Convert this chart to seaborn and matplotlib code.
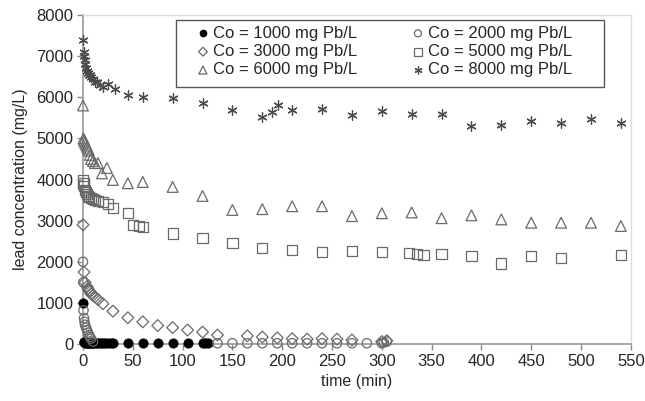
# Lead concentration vs time for different initial concentrations
import matplotlib
matplotlib.use("Agg")
import matplotlib.pyplot as plt
from matplotlib.patches import Rectangle
import seaborn as sns

# Data
t_1000 = [0, 0.5, 1, 2, 3, 4, 5, 6, 7, 8, 9, 10, 12, 14, 16, 18, 20, 22, 25, 28, 30,
          45, 60, 75, 90, 105, 120, 122, 125]
c_1000 = [1000, 60, 40, 30, 25, 20, 20, 20, 20, 20, 20, 20, 20, 20, 20, 20, 20, 20, 20, 20, 20,
          20, 20, 20, 20, 20, 20, 20, 20]

t_2000 = [0, 0.3, 0.5, 1, 1.5, 2, 3, 4, 5, 6, 7, 8, 10,
          135, 150, 165, 180, 195, 210, 225, 240, 255, 270, 285, 300, 302, 305]
c_2000 = [2000, 1500, 820, 630, 540, 470, 400, 340, 280, 220, 170, 130, 60,
          20, 20, 20, 20, 20, 20, 20, 20, 20, 20, 20, 20, 40, 60]

t_3000 = [0, 1, 2, 4, 5, 6, 7, 8, 10, 12, 15, 20, 30, 45, 60, 75, 90, 105, 120, 135,
          165, 180, 195, 210, 225, 240, 255, 270, 300, 305]
c_3000 = [2900, 1750, 1500, 1400, 1350, 1300, 1270, 1220, 1180, 1150, 1080, 980, 800, 640,
          540, 450, 400, 340, 290, 220, 200, 170, 150, 130, 120, 130, 120, 100, 60, 80]

t_5000 = [0, 0.5, 1, 2, 3, 4, 5, 6, 8, 10, 12, 15, 20, 25, 30, 45, 50, 56, 60, 90, 120,
          150, 180, 210, 240, 270, 300, 327, 335, 342, 360, 390, 420, 450, 480, 540]
c_5000 = [3980, 3900, 3850, 3750, 3700, 3650, 3600, 3580, 3550, 3520, 3500, 3480, 3450, 3400,
          3300, 3180, 2900, 2870, 2850, 2690, 2570, 2450, 2330, 2290, 2240, 2260, 2230, 2210,
          2190, 2160, 2190, 2140, 1960, 2140, 2100, 2160]

t_6000 = [0, 0.5, 1, 2, 3, 4, 5, 6, 7, 8, 10, 12, 15, 19, 24, 30, 45, 60, 90, 120,
          150, 180, 210, 240, 270, 300, 330, 360, 390, 420, 450, 480, 510, 540]
c_6000 = [5800, 5000, 4950, 4900, 4850, 4800, 4750, 4700, 4600, 4500, 4450, 4400, 4400, 4150,
          4280, 3990, 3910, 3940, 3820, 3600, 3260, 3280, 3350, 3350, 3110, 3180, 3200, 3060,
          3130, 3030, 2950, 2950, 2950, 2870]

t_8000 = [0, 0.5, 1, 1.5, 2, 3, 4, 5, 6, 7, 8, 10, 12, 14, 17, 20, 25, 32, 45, 60, 90, 120,
          150, 180, 190, 196, 210, 240, 270, 300, 330, 360, 390, 420, 450, 480, 510, 540]
c_8000 = [7400, 7100, 7000, 6900, 6800, 6700, 6650, 6600, 6550, 6550, 6500, 6450, 6380, 6370,
          6300, 6240, 6320, 6190, 6050, 6000, 5980, 5860, 5690, 5520, 5640, 5810, 5690, 5710,
          5570, 5660, 5590, 5590, 5300, 5320, 5420, 5370, 5460, 5370]

labels = ["Co = 1000 mg Pb/L", "Co = 2000 mg Pb/L", "Co = 3000 mg Pb/L",
          "Co = 5000 mg Pb/L", "Co = 6000 mg Pb/L", "Co = 8000 mg Pb/L"]

sns.set_style("white")
plt.rcParams['font.family'] = ['Liberation Sans', 'DejaVu Sans']
fs = 12

fig = plt.figure(figsize=(6.45, 4.01), dpi=100)
ax = fig.add_axes([0.1287, 0.142, 0.8493, 0.8206])

edge = "#6a6a6a"
star = (6, 2, 0)
series = [
    (t_1000, c_1000, dict(marker="o", s=45, color="black", edgecolor="black", linewidth=0.5)),
    (t_2000, c_2000, dict(marker="o", s=45, facecolor="none", edgecolor=edge, linewidth=0.9)),
    (t_3000, c_3000, dict(marker="D", s=36, facecolor="none", edgecolor=edge, linewidth=0.9)),
    (t_5000, c_5000, dict(marker="s", s=55, facecolor="none", edgecolor=edge, linewidth=0.9)),
    (t_6000, c_6000, dict(marker="^", s=60, facecolor="none", edgecolor=edge, linewidth=0.9)),
    (t_8000, c_8000, dict(marker=star, s=45, color="#4a4a4a", linewidth=0.9)),
]
for (t, c, kw), lab in zip(series, labels):
    sns.scatterplot(x=t, y=c, ax=ax, label=lab, clip_on=False, zorder=3, **kw)

handles, lbls = ax.get_legend_handles_labels()
order = [0, 2, 4, 1, 3, 5]
leg = ax.legend([handles[i] for i in order], [lbls[i] for i in order], ncol=2,
                loc="upper left", bbox_to_anchor=(0.2068, 0.9675), borderaxespad=0,
                frameon=False, fontsize=fs, markerscale=0.75,
                handletextpad=0.2, columnspacing=3.25, labelspacing=0.2,
                handlelength=0.8, borderpad=0)
# legend box drawn separately to get the wide side margins
ax.add_patch(Rectangle((0.1697, 0.781), 0.781, 0.2036, transform=ax.transAxes,
                       fill=False, edgecolor="#555555", linewidth=1.0, zorder=4,
                       clip_on=False))

ax.set_xlim(0, 550)
ax.set_ylim(0, 8000)
ax.set_xticks(range(0, 551, 50))
ax.set_yticks(range(0, 8001, 1000))
ax.set_xlabel("time (min)", fontsize=11.5, labelpad=4)
ax.set_ylabel("lead concentration (mg/L)", fontsize=11.5, labelpad=6)
ax.tick_params(axis="both", direction="out", length=4, width=1, color="#888888",
               labelsize=fs, pad=3, bottom=True, left=True)
for side in ["left", "bottom"]:
    ax.spines[side].set_color("#999999")
    ax.spines[side].set_linewidth(1.2)
for side in ["top", "right"]:
    ax.spines[side].set_color("#dddddd")
    ax.spines[side].set_linewidth(1.0)

fig.savefig("out.png", dpi=100)
